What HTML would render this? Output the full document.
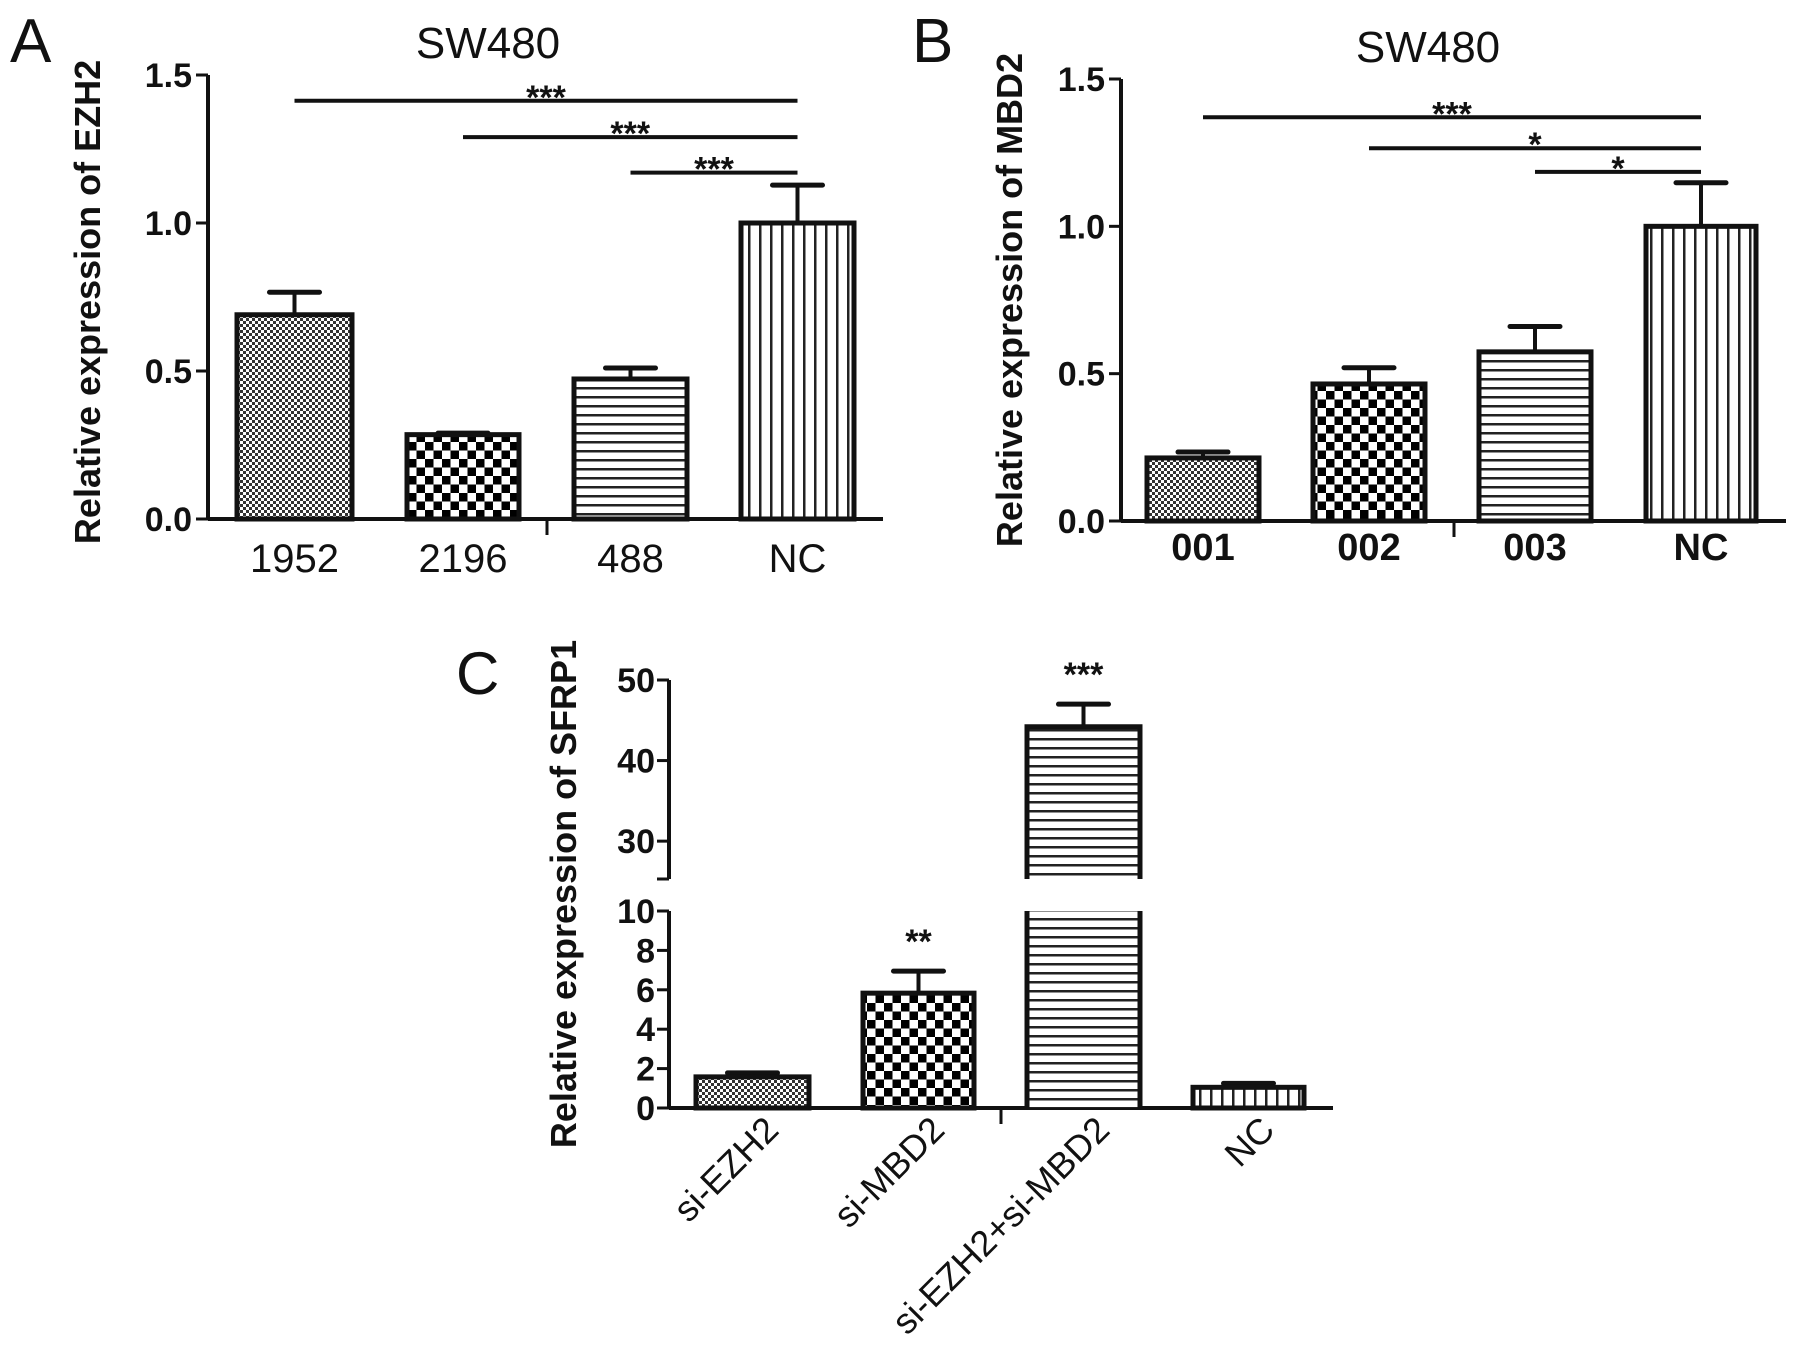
<!DOCTYPE html>
<html><head><meta charset="utf-8">
<style>
html,body{margin:0;padding:0;background:#fff;}
svg{display:block;font-family:"Liberation Sans",Arial,sans-serif;}
</style></head>
<body>
<svg id="fig" width="1795" height="1352" viewBox="0 0 1795 1352" xmlns="http://www.w3.org/2000/svg">
<defs>
<pattern id="pFine" width="6" height="6" patternUnits="userSpaceOnUse"><rect width="6" height="6" fill="#fff"/><rect width="3" height="3" fill="#333"/><rect x="3" y="3" width="3" height="3" fill="#333"/></pattern>
<pattern id="pCheck" width="17" height="17" patternUnits="userSpaceOnUse"><rect width="17" height="17" fill="#fff"/><rect width="8.5" height="8.5" fill="#000"/><rect x="8.5" y="8.5" width="8.5" height="8.5" fill="#000"/></pattern>
<pattern id="pHor" width="9" height="9" patternUnits="userSpaceOnUse"><rect width="9" height="9" fill="#fff"/><rect y="0" width="9" height="2.5" fill="#222"/></pattern>
<pattern id="pVer" width="11" height="11" patternUnits="userSpaceOnUse"><rect width="11" height="11" fill="#fff"/><rect x="0" width="2.5" height="11" fill="#222"/></pattern>
</defs>
<g id="root"></g>
</svg>
<script>
// Panel A data
const catsA = ["1952","2196","488","NC"];
const valsA = [0.69,0.285,0.473,1.0];
const errsA = [0.766,0.29,0.51,1.128];
const ticksA = [0.0,0.5,1.0,1.5];
const tickLabA = ["0.0","0.5","1.0","1.5"];
const sigA = [[0,3,1.413,"***"],[1,3,1.29,"***"],[2,3,1.17,"***"]];
// Panel B data
const catsB = ["001","002","003","NC"];
const valsB = [0.214,0.465,0.574,1.0];
const errsB = [0.234,0.52,0.66,1.148];
const ticksB = [0.0,0.5,1.0,1.5];
const tickLabB = ["0.0","0.5","1.0","1.5"];
const sigB = [[0,3,1.37,"***"],[1,3,1.265,"*"],[2,3,1.185,"*"]];
// Panel C data
const catsC = ["si-EZH2","si-MBD2","si-EZH2+si-MBD2","NC"];
const valsC = [1.58,5.83,44.2,1.05];
const errsC = [1.78,6.95,47.0,1.25];
const starsC = ["","**","***",""];
const ticksCLow = [0,2,4,6,8,10];
const ticksCHigh = [30,40,50];

const NS="http://www.w3.org/2000/svg";
const root=document.getElementById('root');
function mk(tag,attrs,parent,name){const e=document.createElementNS(NS,tag);for(const k in attrs)e.setAttribute(k,attrs[k]);(parent||root).appendChild(e);


return e;}
function txt(s,x,y,size,opts,name){const e=mk('text',Object.assign({x:x,y:y,'font-size':size,fill:'#111'},opts||{}),null,name);e.textContent=s;return e;}

const pats=['url(#pFine)','url(#pCheck)','url(#pHor)','url(#pVer)'];

function panel(cfg){
  const {ax,y0,y1,vmax,xEnd,bars,cats,vals,errs,ticks,tickLab,sig,labBold,labY,labSize,midTick}=cfg;
  const ys=v=>y0-(v/vmax)*(y0-y1);
  mk('line',{x1:ax,y1:y1,x2:ax,y2:y0,stroke:'#111','stroke-width':4},null,'y-axis');
  mk('line',{x1:ax,y1:y0,x2:xEnd,y2:y0,stroke:'#111','stroke-width':4},null,'x-axis');
  mk('line',{x1:midTick,y1:y0,x2:midTick,y2:y0+16,stroke:'#111','stroke-width':3},null,'x-tick');
  ticks.forEach((t,i)=>{
    mk('line',{x1:ax-12,y1:ys(t),x2:ax,y2:ys(t),stroke:'#111','stroke-width':3},null,'y-tick');
    txt(tickLab[i],ax-16,ys(t)+12,34,{'text-anchor':'end','font-weight':'bold'},'y-tick-label');
  });
  cats.forEach((c,i)=>{
    const [bx0,bx1]=bars[i];const cx=(bx0+bx1)/2;
    mk('line',{x1:cx,y1:ys(vals[i]),x2:cx,y2:ys(errs[i]),stroke:'#111','stroke-width':4},null,'error-bar');
    mk('line',{x1:cx-25,y1:ys(errs[i]),x2:cx+25,y2:ys(errs[i]),stroke:'#111','stroke-width':5,'stroke-linecap':'round'},null,'error-cap');
    mk('rect',{x:bx0,y:ys(vals[i]),width:bx1-bx0,height:y0-ys(vals[i]),fill:pats[i],stroke:'#111','stroke-width':5},null,'bar-'+c.toLowerCase());
    txt(c,cx,labY,labSize,{'text-anchor':'middle','font-weight':labBold?'bold':'normal'},'x-label-'+c.toLowerCase());
  });
  sig.forEach(s=>{
    const xa=(bars[s[0]][0]+bars[s[0]][1])/2, xb=(bars[s[1]][0]+bars[s[1]][1])/2;
    mk('line',{x1:xa,y1:ys(s[2]),x2:xb,y2:ys(s[2]),stroke:'#111','stroke-width':4},null,'significance-line');
    txt(s[3],(xa+xb)/2,ys(s[2])+8,34,{'text-anchor':'middle','font-weight':'bold'},'significance-stars');
  });
}
// Panel A
txt('A',10,62,62,{},'panel-label-a');
txt('SW480',488,58,44,{'text-anchor':'middle'},'title-a');
txt('Relative expression of EZH2',0,0,36,{'text-anchor':'middle','font-weight':'bold',transform:'translate(100,302) rotate(-90)'},'y-axis-title-a');
panel({ax:208,y0:519,y1:75,vmax:1.5,xEnd:883,bars:[[237,352],[407,519],[574,687],[741,854]],cats:catsA,vals:valsA,errs:errsA,ticks:ticksA,tickLab:tickLabA,sig:sigA,labBold:false,labY:572,labSize:40,midTick:547});
// Panel B
txt('B',912,62,62,{},'panel-label-b');
txt('SW480',1428,62,44,{'text-anchor':'middle'},'title-b');
txt('Relative expression of MBD2',0,0,36,{'text-anchor':'middle','font-weight':'bold',transform:'translate(1022,300) rotate(-90)'},'y-axis-title-b');
panel({ax:1121,y0:521,y1:79,vmax:1.5,xEnd:1786,bars:[[1147,1259],[1313,1425],[1479,1591],[1646,1756]],cats:catsB,vals:valsB,errs:errsB,ticks:ticksB,tickLab:tickLabB,sig:sigB,labBold:true,labY:560,labSize:38,midTick:1454});
// Panel C (broken axis)
(function(){
  const ax=669, y0=1108, yLowTop=911, yHighBot=879, yHighTop=680;
  const ysL=v=>y0-(v/10)*(y0-yLowTop);
  const ysH=v=>yHighTop+(50-v)*((yHighBot-yHighTop)/(50-25.3));
  const ys=v=>v<=10?ysL(v):ysH(v);
  txt('C',456,694,60,{},'panel-label-c');
  txt('Relative expression of SFRP1',0,0,36,{'text-anchor':'middle','font-weight':'bold',transform:'translate(576,894) rotate(-90)'},'y-axis-title-c');
  mk('line',{x1:ax,y1:yHighTop,x2:ax,y2:yHighBot,stroke:'#111','stroke-width':4},null,'y-axis-upper');
  mk('line',{x1:ax-12,y1:yHighBot,x2:ax,y2:yHighBot,stroke:'#111','stroke-width':3},null,'axis-break');
  mk('line',{x1:ax,y1:yLowTop,x2:ax,y2:y0,stroke:'#111','stroke-width':4},null,'y-axis-lower');
  mk('line',{x1:ax,y1:y0,x2:1333,y2:y0,stroke:'#111','stroke-width':4},null,'x-axis');
  mk('line',{x1:1001,y1:y0,x2:1001,y2:y0+16,stroke:'#111','stroke-width':3},null,'x-tick');
  ticksCLow.concat(ticksCHigh).forEach(t=>{
    mk('line',{x1:ax-12,y1:ys(t),x2:ax,y2:ys(t),stroke:'#111','stroke-width':3},null,'y-tick');
    txt(String(t),ax-14,ys(t)+12,34,{'text-anchor':'end','font-weight':'bold'},'y-tick-label');
  });
  const bars=[[696,809],[863,974],[1027,1140],[1193,1304]];
  catsC.forEach((c,i)=>{
    const [bx0,bx1]=bars[i];const cx=(bx0+bx1)/2;
    mk('line',{x1:cx,y1:ys(valsC[i]),x2:cx,y2:ys(errsC[i]),stroke:'#111','stroke-width':4},null,'error-bar');
    mk('line',{x1:cx-25,y1:ys(errsC[i]),x2:cx+25,y2:ys(errsC[i]),stroke:'#111','stroke-width':5,'stroke-linecap':'round'},null,'error-cap');
    if(valsC[i]>10){
      mk('rect',{x:bx0,y:ys(valsC[i]),width:bx1-bx0,height:yHighBot-ys(valsC[i]),fill:pats[i],stroke:'none'},null,'bar-upper');
      mk('path',{d:`M${bx0},${yHighBot} V${ys(valsC[i])} H${bx1} V${yHighBot}`,fill:'none',stroke:'#111','stroke-width':5},null,'bar-upper-outline');
      mk('rect',{x:bx0,y:yLowTop,width:bx1-bx0,height:y0-yLowTop,fill:pats[i],stroke:'none'},null,'bar-lower');
      mk('path',{d:`M${bx0},${yLowTop} V${y0} M${bx1},${yLowTop} V${y0}`,fill:'none',stroke:'#111','stroke-width':5},null,'bar-lower-outline');
    } else {
      mk('rect',{x:bx0,y:ys(valsC[i]),width:bx1-bx0,height:y0-ys(valsC[i]),fill:pats[i],stroke:'#111','stroke-width':5},null,'bar-'+c.toLowerCase());
    }
    if(starsC[i]) txt(starsC[i],cx,ys(errsC[i])-18,34,{'text-anchor':'middle','font-weight':'bold'},'significance-stars');
    txt(c,0,0,36,{'text-anchor':'end',transform:`translate(${cx+28},${y0+24}) rotate(-45)`},'x-label');
  });
})();
</script>
</body></html>
